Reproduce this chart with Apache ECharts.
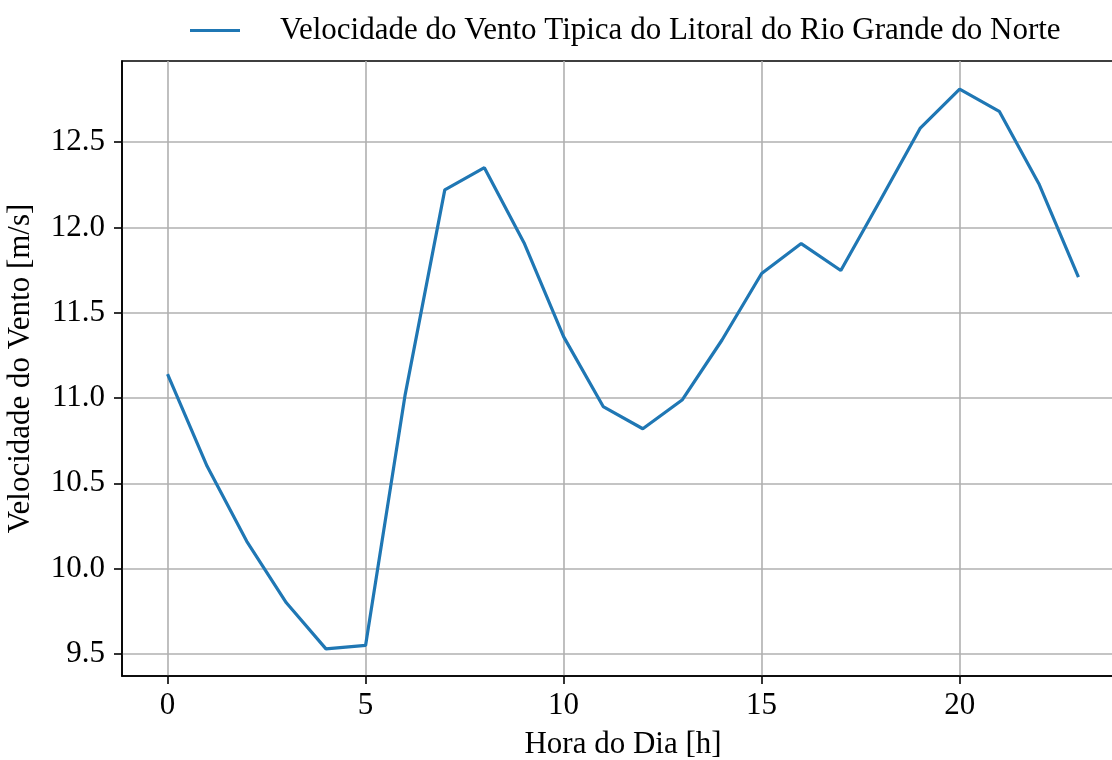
<!DOCTYPE html>
<html lang="pt">
<head>
  <meta charset="UTF-8">
  <title>Velocidade do Vento</title>
  <style>
    html, body { margin: 0; padding: 0; background: #fff; }
    #chart { width: 1112px; height: 760px; }
  </style>
</head>
<body>
  <div id="chart"></div>
  <script src="https://cdn.jsdelivr.net/npm/echarts@6/dist/echarts.min.js"></script>
  <script>
    // hora do dia (0..23)
    var horas = [0, 1, 2, 3, 4, 5, 6, 7, 8, 9, 10, 11, 12, 13, 14, 15, 16, 17, 18, 19, 20, 21, 22, 23]
    // velocidade media do vento [m/s]
    var velocidade = [11.14, 10.60, 10.16, 9.80, 9.53, 9.55, 11.02, 12.22, 12.35, 11.91, 11.36, 10.95,
                      10.82, 10.99, 11.34, 11.73, 11.905, 11.747, 12.16, 12.58, 12.81, 12.68, 12.256, 11.708]
    var xTicks = [0, 5, 10, 15, 20]
    var yTicks = [9.5, 10.0, 10.5, 11.0, 11.5, 12.0, 12.5]
    var nomeSerie = 'Velocidade do Vento Tipica do Litoral do Rio Grande do Norte'

    var fonte = 'Liberation Serif'
    var tam = 31
    var pontos = horas.map(function (h, i) { return [h, velocidade[i]] })

    var chart = echarts.init(document.getElementById('chart'), null, { renderer: 'canvas' })
    chart.setOption({
      animation: false,
      textStyle: { fontFamily: fonte },
      legend: {
        left: 185,
        top: 10,
        itemWidth: 50,
        itemHeight: 3,
        icon: 'rect',
        textStyle: { fontFamily: fonte, fontSize: tam, color: '#000', padding: [0, 0, 0, 35] },
        data: [nomeSerie]
      },
      grid: {
        left: 122,
        top: 61,
        width: 1002,
        bottom: 84,
        show: true,
        borderColor: '#000',
        borderWidth: 1.6,
        containLabel: false,
        outerBoundsMode: 'none'
      },
      xAxis: {
        type: 'value',
        min: -1.15,
        max: 24.15,
        name: 'Hora do Dia [h]',
        nameLocation: 'middle',
        nameGap: 53,
        nameTextStyle: { fontFamily: fonte, fontSize: tam, color: '#000' },
        axisLine: { show: true, onZero: false, lineStyle: { color: '#000', width: 1.6 } },
        axisTick: { show: true, customValues: xTicks, length: 8, lineStyle: { color: '#000', width: 1.6 } },
        axisLabel: { customValues: xTicks, margin: 14, fontFamily: fonte, fontSize: tam, color: '#000' },
        splitLine: { show: true, lineStyle: { color: '#b0b0b0', width: 1.6 } }
      },
      yAxis: {
        type: 'value',
        min: 9.371,
        max: 12.975,
        name: 'Velocidade do Vento [m/s]',
        nameLocation: 'middle',
        nameGap: 86,
        nameTextStyle: { fontFamily: fonte, fontSize: tam, color: '#000' },
        axisLine: { show: true, onZero: false, lineStyle: { color: '#000', width: 1.6 } },
        axisTick: { show: true, customValues: yTicks, length: 8, lineStyle: { color: '#000', width: 1.6 } },
        axisLabel: {
          customValues: yTicks, margin: 17, fontFamily: fonte, fontSize: tam, color: '#000',
          formatter: function (v) { return v.toFixed(1) }
        },
        splitLine: { show: true, lineStyle: { color: '#b0b0b0', width: 1.6 } }
      },
      series: [{
        name: nomeSerie,
        type: 'line',
        data: pontos,
        showSymbol: false,
        symbol: 'none',
        itemStyle: { color: '#1f77b4' },
        lineStyle: { color: '#1f77b4', width: 3.2 }
      }]
    })
  </script>
</body>
</html>
